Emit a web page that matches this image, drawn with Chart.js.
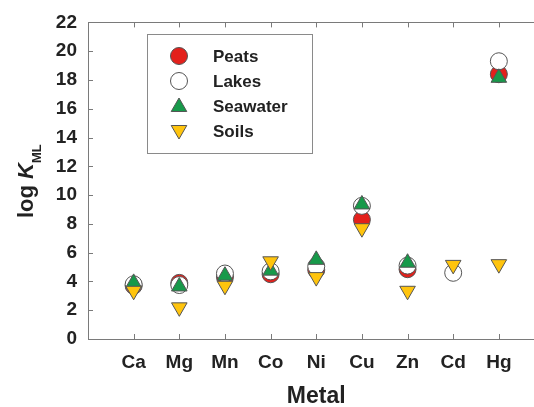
<!DOCTYPE html>
<html>
<head>
<meta charset="utf-8">
<script src="https://cdn.jsdelivr.net/npm/chart.js@4/dist/chart.umd.min.js"></script>
<style>
  html, body { margin: 0; padding: 0; background: #fff; overflow: hidden; width: 534px; height: 407px; }
  canvas { display: block; }
</style>
</head>
<body>
<!-- the original figure is cropped on the right, so the canvas runs a little past the window -->
<canvas id="metalChart" width="544" height="407"></canvas>
<script>
// metals along the x axis
const metals = ['Ca', 'Mg', 'Mn', 'Co', 'Ni', 'Cu', 'Zn', 'Cd', 'Hg'];

// log K_ML for each environment (null = not reported)
const peats    = [3.7, 3.9, 4.3, 4.5, 4.8, 8.3, 4.85, null, 18.4];
const lakes    = [3.8, 3.75, 4.55, 4.7, 5.05, 9.25, 5.1, 4.6, 19.3];
const seawater = [3.9, 3.65, 4.4, 4.75, 5.5, 9.35, 5.3, null, 18.15];
const soils    = [3.35, 2.2, 3.7, 5.4, 4.3, 7.7, 3.35, 5.15, 5.2];

const yTicks = [0, 2, 4, 6, 8, 10, 12, 14, 16, 18, 20, 22];

const FONT = '"Liberation Sans", Arial, Helvetica, sans-serif';
const AXIS_GREY = '#7a7a7a';
const EDGE = '#555';

function points(values) {
  const out = [];
  values.forEach((v, i) => { if (v !== null) out.push({ x: i, y: v }); });
  return out;
}

const series = [
  { label: 'Peats',    data: peats,    color: '#e3201b', style: 'circle',   radius: 8.5, rotation: 0,   order: 4 },
  { label: 'Lakes',    data: lakes,    color: '#ffffff', style: 'circle',   radius: 8.5, rotation: 0,   order: 3 },
  { label: 'Seawater', data: seawater, color: '#17994a', style: 'triangle', radius: 9,   rotation: 0,   order: 2 },
  { label: 'Soils',    data: soils,    color: '#ffc40d', style: 'triangle', radius: 9,   rotation: 180, order: 1 }
];

function drawMarker(ctx, s, x, y) {
  ctx.save();
  ctx.fillStyle = s.color;
  ctx.strokeStyle = EDGE;
  ctx.lineWidth = 1;
  ctx.beginPath();
  if (s.style === 'circle') {
    ctx.arc(x, y, s.radius, 0, Math.PI * 2);
  } else {
    const r = s.radius;
    const dir = s.rotation === 180 ? -1 : 1;
    ctx.moveTo(x, y - dir * r);
    ctx.lineTo(x + r * Math.sin(Math.PI * 2 / 3), y + dir * r / 2);
    ctx.lineTo(x - r * Math.sin(Math.PI * 2 / 3), y + dir * r / 2);
    ctx.closePath();
  }
  ctx.fill();
  ctx.stroke();
  ctx.restore();
}

// frame ticks, axis titles and the legend box
const decorations = {
  id: 'decorations',
  afterDraw(chart) {
    const ctx = chart.ctx;
    const area = chart.chartArea;
    const xs = chart.scales.x;
    const ys = chart.scales.y;

    ctx.save();
    ctx.strokeStyle = AXIS_GREY;
    ctx.lineWidth = 1;
    ctx.beginPath();
    // top frame line
    ctx.moveTo(area.left, Math.round(area.top) + 0.5);
    ctx.lineTo(area.right, Math.round(area.top) + 0.5);
    // inward ticks on top and bottom
    metals.forEach((m, i) => {
      const px = Math.round(xs.getPixelForValue(i)) + 0.5;
      ctx.moveTo(px, area.bottom);
      ctx.lineTo(px, area.bottom - 5);
      ctx.moveTo(px, area.top);
      ctx.lineTo(px, area.top + 5);
    });
    // inward ticks on left
    yTicks.forEach(v => {
      if (v === 0 || v === 22) return;
      const py = Math.round(ys.getPixelForValue(v)) + 0.5;
      ctx.moveTo(area.left, py);
      ctx.lineTo(area.left + 5, py);
    });
    ctx.stroke();
    ctx.restore();

    // x title
    ctx.save();
    ctx.fillStyle = '#222';
    ctx.font = 'bold 23px ' + FONT;
    ctx.textAlign = 'center';
    ctx.textBaseline = 'middle';
    ctx.fillText('Metal', xs.getPixelForValue(4), 397);
    ctx.restore();

    // y title: log K_ML
    ctx.save();
    ctx.fillStyle = '#222';
    ctx.translate(33, 218);
    ctx.rotate(-Math.PI / 2);
    ctx.textAlign = 'left';
    ctx.textBaseline = 'alphabetic';
    ctx.font = 'bold 22px ' + FONT;
    ctx.fillText('log ', 0, 0);
    let w = ctx.measureText('log ').width;
    ctx.font = 'italic bold 22px ' + FONT;
    ctx.fillText('K', w, 0);
    w += ctx.measureText('K').width;
    ctx.font = 'bold 13px ' + FONT;
    ctx.fillText('ML', w, 8);
    ctx.restore();

    // legend
    ctx.save();
    ctx.fillStyle = '#fff';
    ctx.fillRect(147.5, 34.5, 165, 119);
    ctx.strokeStyle = '#8a8a8a';
    ctx.lineWidth = 1;
    ctx.strokeRect(147.5, 34.5, 165, 119);
    ctx.font = 'bold 17px ' + FONT;
    ctx.textAlign = 'left';
    ctx.textBaseline = 'middle';
    series.forEach((s, i) => {
      const y = 56 + i * 25;
      drawMarker(ctx, s, 179, y + (s.style === 'triangle' ? (s.rotation ? -1 : 1) : 0));
      ctx.fillStyle = '#222';
      ctx.fillText(s.label, 213, y + 1);
    });
    ctx.restore();
  }
};

const ctx = document.getElementById('metalChart').getContext('2d');
new Chart(ctx, {
  type: 'scatter',
  data: {
    datasets: series.map(s => ({
      label: s.label,
      data: points(s.data),
      order: s.order,
      pointStyle: s.style,
      pointRadius: s.radius,
      pointHoverRadius: s.radius,
      rotation: s.rotation,
      backgroundColor: s.color,
      borderColor: EDGE,
      borderWidth: 1
    }))
  },
  options: {
    responsive: false,
    animation: false,
    layout: { padding: { top: 20, right: 0, left: 0, bottom: 0 } },
    plugins: {
      legend: { display: false },
      tooltip: { enabled: false }
    },
    scales: {
      x: {
        type: 'linear',
        min: -1,
        max: 8.77,
        afterFit: scale => { scale.height = 68; },
        afterBuildTicks: scale => {
          scale.ticks = metals.map((m, i) => ({ value: i }));
        },
        ticks: {
          autoSkip: false,
          maxRotation: 0,
          padding: 12,
          color: '#222',
          font: { family: FONT, size: 19, weight: 'bold' },
          callback: v => metals[v] || ''
        },
        grid: { display: false, drawTicks: false },
        border: { display: true, color: AXIS_GREY, width: 1 }
      },
      y: {
        min: 0,
        max: 22,
        afterFit: scale => { scale.width = 88; },
        afterBuildTicks: scale => {
          scale.ticks = yTicks.map(v => ({ value: v }));
        },
        ticks: {
          padding: 11,
          color: '#222',
          font: { family: FONT, size: 19, weight: 'bold' }
        },
        grid: { display: false, drawTicks: false },
        border: { display: true, color: AXIS_GREY, width: 1 }
      }
    }
  },
  plugins: [decorations]
});
</script>
</body>
</html>
